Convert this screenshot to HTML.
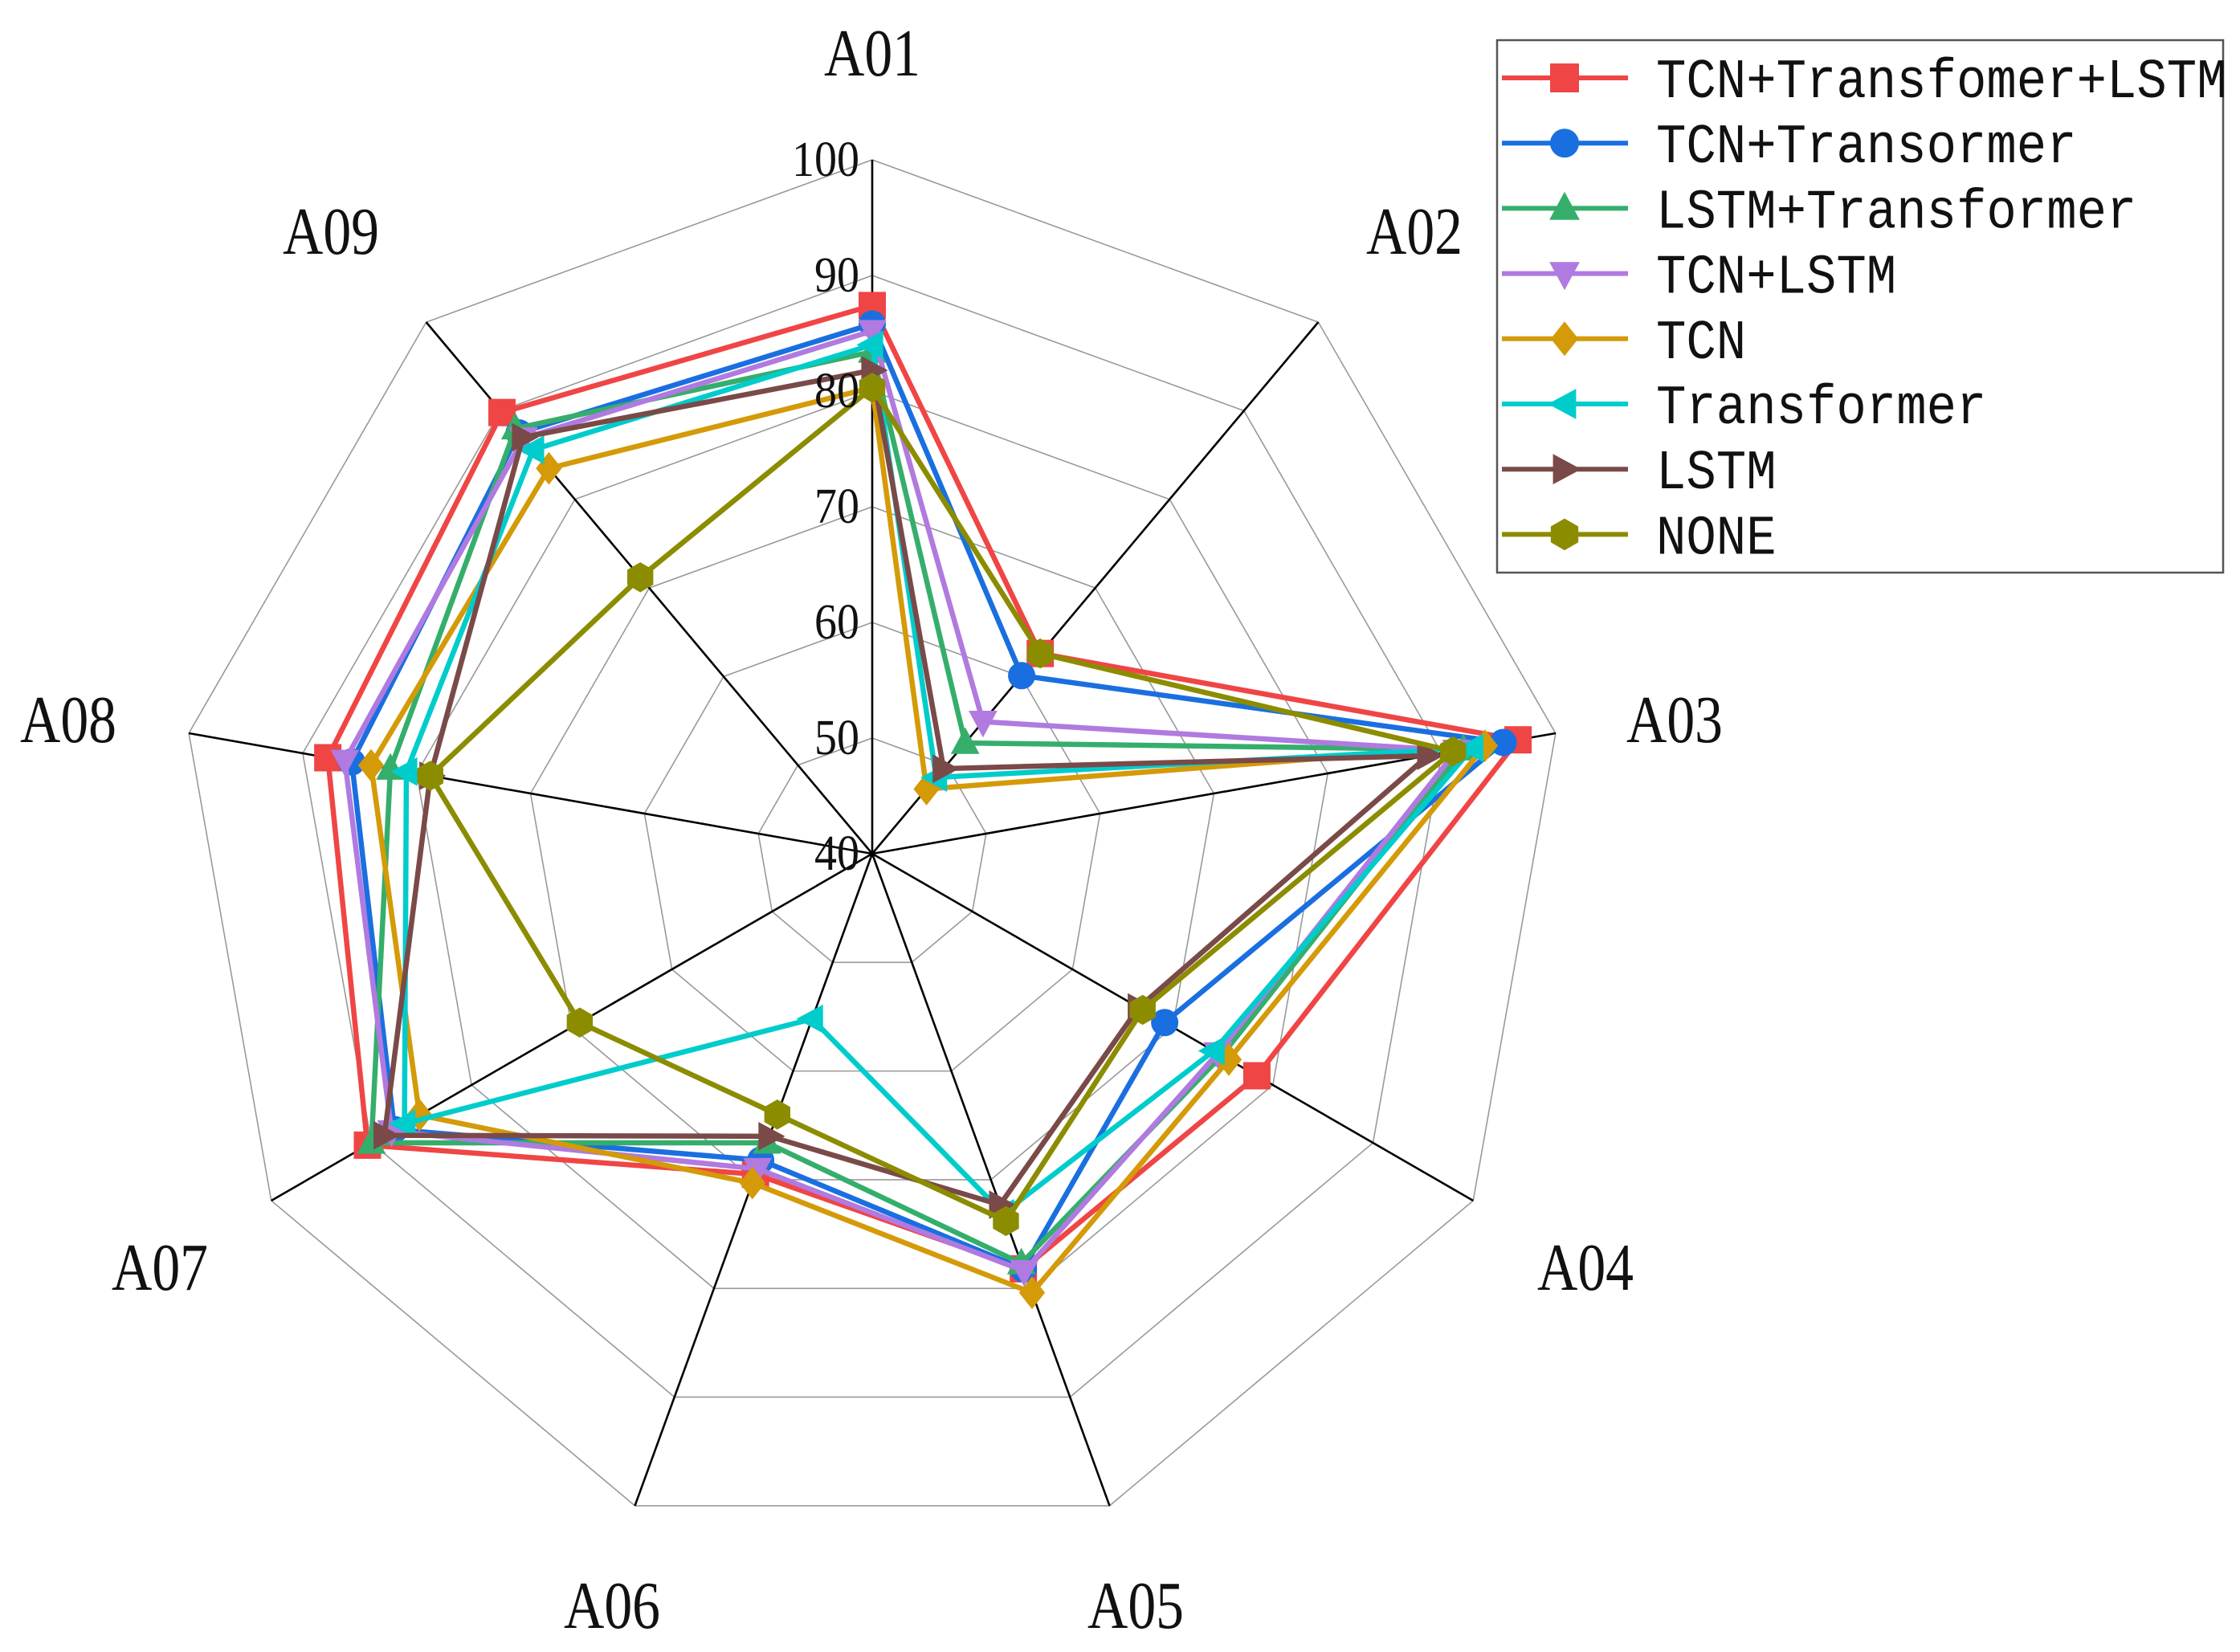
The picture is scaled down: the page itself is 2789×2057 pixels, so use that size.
<!DOCTYPE html>
<html><head><meta charset="utf-8"><style>
html,body{margin:0;padding:0;background:#fff;}
svg{display:block;}
text{font-family:"Liberation Serif","Noto Serif CJK SC",serif;fill:#111;}
.mono{font-family:"Liberation Mono","Noto Sans CJK SC",monospace;}
</style></head><body>
<svg id="chart" width="2789" height="2057" viewBox="0 0 2789 2057" xmlns="http://www.w3.org/2000/svg">
<g id="grid"></g>
<g id="series"></g>
<g id="labels"></g>
<g id="legend"></g>
</svg>
<script>
const categories = ["A01","A02","A03","A04","A05","A06","A07","A08","A09"];
const tickValues = [40,50,60,70,80,90,100];
const seriesNames = ["TCN+Transfomer+LSTM","TCN+Transormer","LSTM+Transformer","TCN+LSTM","TCN","Transformer","LSTM","NONE"];
const sRed    = [87.4,62.6,96.7,78.4,78.2,69.5,90.4,87.8,89.8];
const sBlue   = [85.8,60.1,95.4,69.2,78.2,68.2,87.7,85.7,87.5];
const sGreen  = [83.4,52.5,91.9,74.9,77.7,66.6,90.0,82.3,88.0];
const sPurple = [85.2,54.9,91.3,74.5,78.4,69.0,88.0,86.3,86.9];
const sTCN    = [80.3,47.3,93.8,75.6,80.4,70.3,85.2,84.0,83.5];
const sCyan   = [84.0,48.6,92.7,74.1,73.1,55.2,86.7,80.9,85.6];
const sBrown  = [81.8,49.6,88.8,66.6,72.3,66.0,88.7,78.8,87.0];
const sNone   = [80.3,62.6,91.0,67.0,73.8,64.0,69.2,78.8,71.2];

const allSeries=[sRed,sBlue,sGreen,sPurple,sTCN,sCyan,sBrown,sNone];
const colors=["#f04545","#1a6fe0","#35ae6c","#b07ae0","#d49a08","#00cccc","#7a4a48","#8c8c00"];
const markers=["square","circle","tri-up","tri-down","diamond","tri-left","tri-right","hexagon"];
const NS="http://www.w3.org/2000/svg";
const cx=1086,cy=1063,R=864,vmin=40,vmax=100;
function rOf(v){return (v-vmin)/(vmax-vmin)*R;}
function ang(i){return i*2*Math.PI/categories.length;}
function pt(i,v){const r=rOf(v),a=ang(i);return [cx+r*Math.sin(a),cy-r*Math.cos(a)];}
function mk(tag,attrs,parent){const e=document.createElementNS(NS,tag);for(const k in attrs)e.setAttribute(k,attrs[k]);parent.appendChild(e);return e;}
const grid=document.getElementById('grid'),ser=document.getElementById('series'),lab=document.getElementById('labels'),leg=document.getElementById('legend');
tickValues.slice(1).forEach(t=>{
  const p=categories.map((c,i)=>pt(i,t).join(',')).join(' ');
  const e=mk('polygon',{points:p,fill:'none',stroke:'#999','stroke-width':1.6},grid);
  
  
});
categories.forEach((c,i)=>{
  const p=pt(i,vmax);
  const e=mk('line',{x1:cx,y1:cy,x2:p[0],y2:p[1],stroke:'#000','stroke-width':2.6},grid);
  
  
});
function marker(type,x,y,s,color,parent){
  let e;
  const h=s/2;
  if(type==='square') e=mk('rect',{x:x-h,y:y-h,width:s,height:s},parent);
  else if(type==='circle') e=mk('circle',{cx:x,cy:y,r:h},parent);
  else {
    let pts;
    if(type==='tri-up') pts=[[x,y-h*1.15],[x+h*1.05,y+h*0.8],[x-h*1.05,y+h*0.8]];
    else if(type==='tri-down') pts=[[x,y+h*1.15],[x+h*1.05,y-h*0.8],[x-h*1.05,y-h*0.8]];
    else if(type==='tri-left') pts=[[x-h*1.15,y],[x+h*0.8,y-h*1.05],[x+h*0.8,y+h*1.05]];
    else if(type==='tri-right') pts=[[x+h*1.15,y],[x-h*0.8,y-h*1.05],[x-h*0.8,y+h*1.05]];
    else if(type==='diamond') pts=[[x,y-h*1.2],[x+h*0.95,y],[x,y+h*1.2],[x-h*0.95,y]];
    else {pts=[];for(let k=0;k<6;k++){const a=Math.PI/6+k*Math.PI/3;pts.push([x+h*1.1*Math.cos(a),y+h*1.1*Math.sin(a)]);}}
    e=mk('polygon',{points:pts.map(p=>p.join(',')).join(' ')},parent);
  }
  e.setAttribute('fill',color);
  return e;
}
allSeries.forEach((s,k)=>{
  const g=mk('g',{},ser);
  
  
  const p=s.map((v,i)=>pt(i,v).join(',')).join(' ');
  const poly=mk('polygon',{points:p,fill:'none',stroke:colors[k],'stroke-width':6.5,'stroke-linejoin':'miter'},g);
  
  
  s.forEach((v,i)=>{const q=pt(i,v);const m=marker(markers[k],q[0],q[1],34,colors[k],g);
    
    });
});
tickValues.forEach(t=>{
  const y=cy-rOf(t);
  const e=mk('text',{x:cx-16,y:y+20,'text-anchor':'end','font-size':62,textLength:28*String(t).length,lengthAdjust:'spacingAndGlyphs'},lab);
  e.textContent=t;
  
  
});
const labPos=[[1086,94],[1761,316],[2085,924],[1974,1606],[1414,2027],[762,2027],[199,1606],[85,924],[412,316]];
categories.forEach((c,i)=>{
  const e=mk('text',{x:labPos[i][0],y:labPos[i][1],'text-anchor':'middle','font-size':84,textLength:120,lengthAdjust:'spacingAndGlyphs'},lab);
  e.textContent=c;
  
  
});
const box=mk('rect',{x:1864,y:50,width:904,height:663,fill:'#fff',stroke:'#555','stroke-width':2.5},leg);


seriesNames.forEach((n,k)=>{
  const y=97+k*81.2;
  const g=mk('g',{},leg);
  
  
  mk('line',{x1:1870,y1:y,x2:2027,y2:y,stroke:colors[k],'stroke-width':6},g);
  marker(markers[k],1948,y,36,colors[k],g);
  const t=mk('text',{x:2062,y:y+24,'class':'mono','font-size':70,textLength:37.4*n.length,lengthAdjust:'spacingAndGlyphs'},g);
  t.textContent=n;
});
</script>
</body></html>
